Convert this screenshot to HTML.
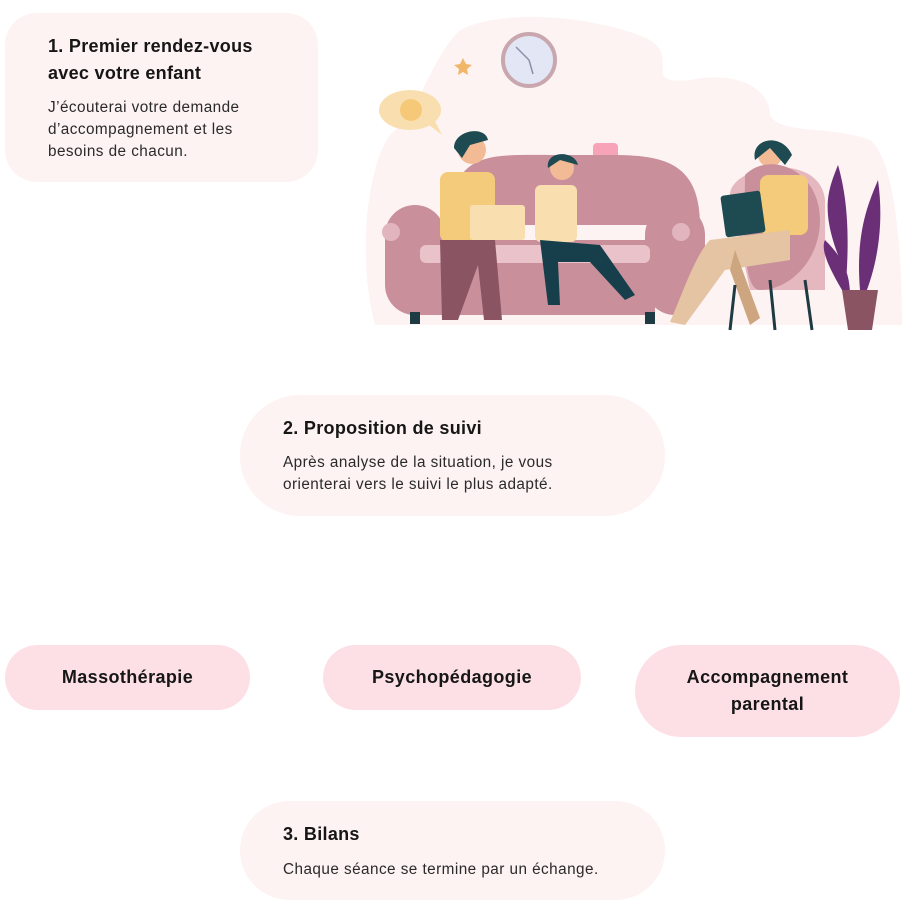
<!DOCTYPE html>
<html><head><meta charset="utf-8"><style>
body{margin:0;width:905px;height:905px;background:#fff;position:relative;overflow:hidden;font-family:"Liberation Sans",sans-serif;color:#1c1c1c}
.b{position:absolute;background:#fdf3f2}
.t{position:absolute;font-size:18px;font-weight:bold;line-height:27px;letter-spacing:0.3px;color:#161616}
.p{position:absolute;font-size:15.3px;line-height:22px;letter-spacing:0.45px;color:#2a2a2a}
.pill{position:absolute;background:#fde0e5;display:flex;align-items:center;justify-content:center;text-align:center;font-size:18px;font-weight:bold;line-height:27px;letter-spacing:0.4px;color:#161616}
</style></head><body>
<div class="b" style="left:5px;top:13px;width:313px;height:169px;border-radius:32px"></div>
<div class="t" style="left:48px;top:33px">1. Premier rendez-vous<br>avec votre enfant</div>
<div class="p" style="left:48px;top:97px">J’écouterai votre demande<br>d’accompagnement et les<br>besoins de chacun.</div>

<svg style="position:absolute;left:350px;top:0" width="555" height="340" viewBox="0 0 555 340">
<path d="M25 325 C5 250 20 150 45 130 C70 110 80 60 110 30 C160 5 260 20 300 40 C330 60 290 85 340 80 C390 70 420 90 420 115 C430 135 480 125 520 140 C545 160 552 250 552 325 Z" fill="#fdf3f2"/>
<circle cx="179" cy="60" r="26" fill="#e2e6f5" stroke="#c9a7ae" stroke-width="4"/>
<path d="M179 60 L166 47 M179 60 L183 74" stroke="#8d8fa8" stroke-width="1.5"/>
<path d="M113 58 l3 6 6 1 -5 4 1 6 -5 -3 -5 3 1 -6 -5 -4 6 -1z" fill="#f2b66b"/>
<ellipse cx="60" cy="110" rx="31" ry="20" fill="#f9dfb0"/><path d="M75 122 L92 135 L82 115Z" fill="#f9dfb0"/>
<circle cx="61" cy="110" r="11" fill="#f6c978"/>
<rect x="243" y="143" width="25" height="20" rx="4" fill="#f8a4b8"/>
<path d="M100 225 C100 150 140 155 200 155 L260 155 C310 155 350 160 350 225 Z" fill="#c9909c"/>
<rect x="35" y="205" width="60" height="110" rx="30" fill="#c9909c"/>
<rect x="295" y="205" width="60" height="110" rx="30" fill="#c9909c"/>
<circle cx="41" cy="232" r="9" fill="#e2b5be"/><circle cx="331" cy="232" r="9" fill="#e2b5be"/>
<rect x="65" y="240" width="240" height="75" fill="#c9909c"/>
<rect x="70" y="245" width="230" height="18" rx="6" fill="#e9c2ca"/>
<rect x="60" y="312" width="10" height="12" fill="#1e3a42"/><rect x="295" y="312" width="10" height="12" fill="#1e3a42"/>
<rect x="90" y="172" width="55" height="70" rx="8" fill="#f4cb7a"/>
<circle cx="122" cy="150" r="14" fill="#f2bb96"/><path d="M104 148 C104 130 135 125 138 140 L120 145 L112 158Z" fill="#1e4a52"/>
<path d="M90 240 L145 240 L152 320 L134 320 L128 265 L108 320 L92 320Z" fill="#8a5462"/>
<rect x="120" y="205" width="55" height="35" rx="3" fill="#f9dfb0"/>
<rect x="185" y="185" width="42" height="57" rx="6" fill="#f9dfb0"/>
<circle cx="212" cy="168" r="12" fill="#f2bb96"/><path d="M198 168 C195 150 225 150 228 165 L210 160Z" fill="#1e4a52"/>
<path d="M190 240 L250 245 L285 295 L275 300 L240 262 L208 262 L210 305 L198 305Z" fill="#173f4b"/>
<circle cx="420" cy="155" r="12" fill="#f2bb96"/><path d="M405 160 C400 138 432 132 442 155 L435 165 L420 148Z" fill="#1e4a52"/>
<path d="M380 195 C380 165 470 150 475 200 L475 290 L400 290 Z" fill="#e5b7bf"/>
<path d="M395 175 C420 150 470 170 470 220 C470 260 440 290 410 290 C390 290 395 210 395 175Z" fill="#c9909c"/>
<rect x="410" y="175" width="48" height="60" rx="8" fill="#f4cb7a"/>
<rect x="373" y="193" width="40" height="42" rx="3" fill="#1e4a52" transform="rotate(-8 393 214)"/>
<path d="M440 230 L360 240 C345 255 330 300 320 322 L335 325 L375 270 L440 260Z" fill="#e4c4a2"/>
<path d="M385 250 L410 318 L400 325 L380 270Z" fill="#cda57f"/>
<path d="M385 285 L380 330 M420 280 L425 330 M455 280 L462 330" stroke="#1e3a42" stroke-width="3"/>
<path d="M490 260 C470 210 478 190 488 165 C498 200 500 240 495 295 M510 290 C505 230 520 200 528 180 C535 230 525 270 515 295 M495 295 C480 270 470 250 475 240 C490 255 500 270 500 295" fill="#6b2f77"/>
<path d="M492 290 L528 290 L522 330 L498 330Z" fill="#8a5462"/>
</svg>

<div class="b" style="left:240px;top:395px;width:425px;height:121px;border-radius:60px"></div>
<div class="t" style="left:283px;top:415px">2. Proposition de suivi</div>
<div class="p" style="left:283px;top:452px">Après analyse de la situation, je vous<br>orienterai vers le suivi le plus adapté.</div>

<div class="pill" style="left:5px;top:645px;width:245px;height:65px;border-radius:33px">Massothérapie</div>
<div class="pill" style="left:323px;top:645px;width:258px;height:65px;border-radius:33px">Psychopédagogie</div>
<div class="pill" style="left:635px;top:645px;width:265px;height:92px;border-radius:46px">Accompagnement<br>parental</div>

<div class="b" style="left:240px;top:801px;width:425px;height:99px;border-radius:50px"></div>
<div class="t" style="left:283px;top:821px">3. Bilans</div>
<div class="p" style="left:283px;top:859px">Chaque séance se termine par un échange.</div>
</body></html>
